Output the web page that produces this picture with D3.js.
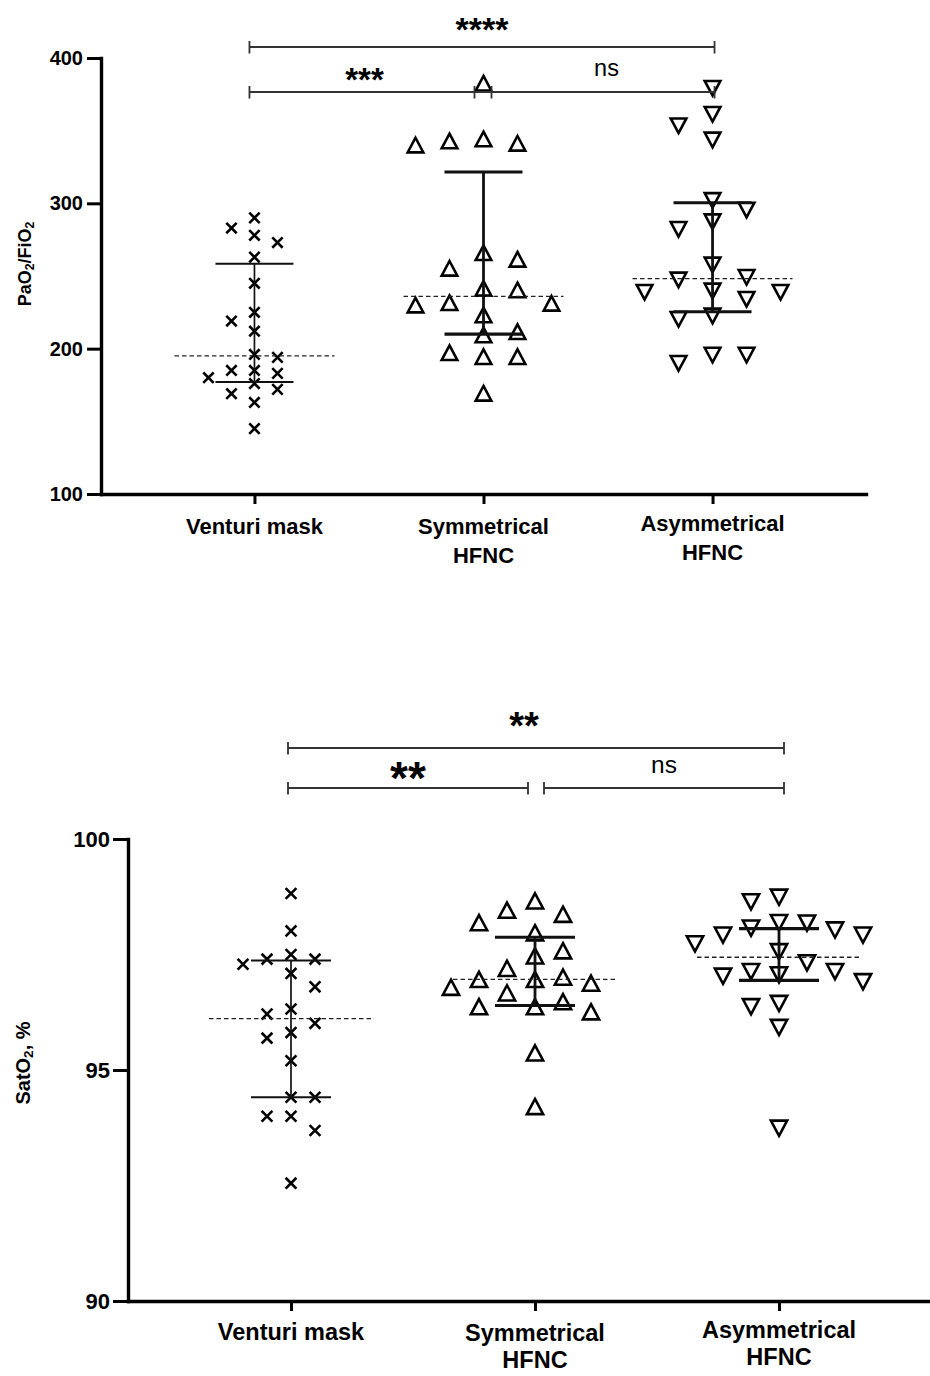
<!DOCTYPE html>
<html><head><meta charset="utf-8">
<script src="https://cdn.jsdelivr.net/npm/d3@7"></script>
<style>body{margin:0;background:#fff}svg{display:block}</style>
</head><body>
<svg id="c" width="930" height="1376"></svg>
<script>
// ---------------- DATA ----------------
const categories = ["Venturi mask", "Symmetrical HFNC", "Asymmetrical HFNC"];
const categoryLines = [["Venturi mask"], ["Symmetrical", "HFNC"], ["Asymmetrical", "HFNC"]];

const pfVenturi = [290, 283, 278, 273, 263, 245, 225, 219, 212, 196, 194, 185, 185, 183, 180, 176, 172, 169, 163, 145];
const pfSymmetrical = [382.6, 344.3, 342.9, 341.3, 340.1, 266.0, 261.5, 255.3, 241.5, 240.4, 231.6, 231.2, 230.0, 223.2, 211.7, 209.4, 197.2, 194.5, 194.5, 169.3];
const pfAsymmetrical = [379.2, 361.3, 353.4, 343.6, 302.0, 295.4, 287.4, 282.1, 257.6, 249.1, 247.3, 239.7, 238.8, 238.8, 234.0, 222.5, 220.2, 195.6, 195.6, 189.9];

const satVenturi = [98.82, 98.01, 97.50, 97.40, 97.40, 97.29, 97.09, 96.80, 96.32, 96.21, 96.01, 95.81, 95.69, 95.20, 94.41, 94.41, 94.00, 94.00, 93.69, 92.55];
const satSymmetrical = [98.66, 98.46, 98.37, 98.19, 97.97, 97.58, 97.47, 97.20, 97.01, 96.96, 96.96, 96.88, 96.79, 96.67, 96.48, 96.37, 96.37, 96.26, 95.37, 94.21];
const satAsymmetrical = [98.74, 98.64, 98.19, 98.18, 98.07, 98.03, 97.92, 97.92, 97.73, 97.56, 97.32, 97.13, 97.13, 97.06, 97.03, 96.91, 96.44, 96.37, 95.92, 93.74];

const pfTicks = [100, 200, 300, 400];
const satTicks = [90, 95, 100];
const pfDomain = [100, 400];
const satDomain = [90, 100];

// comparisons: [groupA, groupB, label]
const pfComparisons = [[0, 2, "****"], [0, 1, "***"], [1, 2, "ns"]];
const satComparisons = [[0, 2, "**"], [0, 1, "**"], [1, 2, "ns"]];

// ---------------- DRAW ----------------
const svg = d3.select("#c");
const FONT = "'Liberation Sans', Arial, Helvetica, sans-serif";

function prismQuantile(arr, p) {
  const s = arr.slice().sort((a, b) => a - b), n = s.length;
  const pos = (n + 1) * p, i = Math.floor(pos), f = pos - i;
  if (i < 1) return s[0];
  if (i >= n) return s[n - 1];
  return s[i - 1] + f * (s[i] - s[i - 1]);
}

function swarm(values, y, spacing, h) {
  const idx = values.map((v, i) => i).sort((a, b) => values[b] - values[a]);
  const placed = [], off = new Array(values.length);
  let toggle = -1;
  idx.forEach(i => {
    const py = y(values[i]);
    const cands = [0];
    for (let k = 1; k < 30; k++) cands.push(toggle * k * spacing / 2, -toggle * k * spacing / 2);
    for (const dx of cands) {
      if (placed.every(p => Math.abs(p.dx - dx) >= spacing * 0.95 || Math.abs(p.py - py) >= h)) {
        off[i] = dx; placed.push({dx, py});
        if (dx !== 0) toggle = -Math.sign(dx);
        break;
      }
    }
  });
  return off;
}

function markerPath(type, s) {
  if (type === "x") return `M${-s},${-s}L${s},${s}M${-s},${s}L${s},${-s}`;
  const w = s * 1.07, hh = s;
  if (type === "up") return `M0,${-hh}L${w},${hh}L${-w},${hh}Z`;
  return `M0,${hh}L${w},${-hh}L${-w},${-hh}Z`;
}

function drawChart(cfg) {
  const g = svg.append("g");
  const y = d3.scaleLinear().domain(cfg.domain).range([cfg.yBottom, cfg.yTop]);
  const x = d3.scalePoint().domain(categories).range([cfg.xLeft, cfg.xRight]).padding(cfg.pad);

  // Y axis
  const ya = g.append("g").attr("transform", `translate(${cfg.xLeft},0)`)
    .call(d3.axisLeft(y).tickValues(cfg.ticks).tickSize(cfg.tickLen).tickSizeOuter(0).tickPadding(cfg.tickPad));
  ya.select(".domain").attr("stroke", "#000").attr("stroke-width", 3.4).attr("stroke-linecap", "square");
  ya.selectAll(".tick line").attr("stroke", "#000").attr("stroke-width", 3);
  ya.selectAll(".tick text").attr("font-family", FONT).attr("font-weight", "bold")
    .attr("font-size", cfg.tickFont).attr("fill", "#000");

  // X axis
  const xa = g.append("g").attr("transform", `translate(0,${cfg.yBottom})`)
    .call(d3.axisBottom(x).tickSize(10).tickSizeOuter(0).tickFormat(""));
  xa.select(".domain").attr("stroke", "#000").attr("stroke-width", 3.4).attr("stroke-linecap", "square");
  xa.selectAll(".tick line").attr("stroke", "#000").attr("stroke-width", 3);

  categories.forEach((c, ci) => {
    const t = g.append("text").attr("x", x(c)).attr("y", cfg.labelY + cfg.labelShift[ci])
      .attr("text-anchor", "middle").attr("font-family", FONT).attr("font-weight", "bold")
      .attr("font-size", cfg.labelFont).attr("fill", "#000");
    categoryLines[ci].forEach((ln, li) => {
      t.append("tspan").attr("x", x(c)).attr("dy", li === 0 ? 0 : cfg.lineGap).text(ln);
    });
  });

  // Y title
  const yt = g.append("text").attr("transform", `translate(${cfg.titleX},${cfg.titleY}) rotate(-90)`)
    .attr("text-anchor", "middle").attr("font-family", FONT).attr("font-weight", "bold")
    .attr("font-size", cfg.titleFont).attr("fill", "#000");
  cfg.title.forEach(part => {
    const ts = yt.append("tspan").text(part[0]);
    if (part[1] === "sub") ts.attr("font-size", cfg.titleFont * 0.68).attr("dy", 3);
    else if (part[1] === "back") ts.attr("dy", -3);
  });

  // Points and error bars
  cfg.series.forEach((vals, ci) => {
    const cx = x(categories[ci]);
    const off = swarm(vals, y, cfg.spacing[ci], cfg.rowH[ci]);
    g.append("g").selectAll("path").data(vals).join("path")
      .attr("transform", (d, i) => `translate(${cx + off[i]},${y(d)})`)
      .attr("d", markerPath(cfg.markers[ci], cfg.markerSize[ci]))
      .attr("fill", "none").attr("stroke", "#000").attr("stroke-width", 2.6)
      .attr("stroke-linejoin", "miter");

    const med = prismQuantile(vals, 0.5), q1 = prismQuantile(vals, 0.25), q3 = prismQuantile(vals, 0.75);
    const lw = cfg.barWidth[ci];
    g.append("line").attr("x1", cx - cfg.medHalf).attr("x2", cx + cfg.medHalf)
      .attr("y1", y(med)).attr("y2", y(med))
      .attr("stroke", "#222").attr("stroke-width", 1.3).attr("stroke-dasharray", "4.5,3");
    g.append("line").attr("x1", cx).attr("x2", cx).attr("y1", y(q1)).attr("y2", y(q3))
      .attr("stroke", "#111").attr("stroke-width", lw);
    [q1, q3].forEach(q => g.append("line").attr("x1", cx - cfg.capHalf).attr("x2", cx + cfg.capHalf)
      .attr("y1", y(q)).attr("y2", y(q)).attr("stroke", "#111").attr("stroke-width", lw + 0.3));
  });

  // Significance brackets
  cfg.comparisons.forEach((cmp, k) => {
    const b = cfg.brackets[k];
    const xa1 = x(categories[cmp[0]]) + b.l, xb1 = x(categories[cmp[1]]) + b.r;
    g.append("path").attr("d", `M${xa1},${b.y - 6}V${b.y + 6.5}M${xa1},${b.y}H${xb1}M${xb1},${b.y - 6}V${b.y + 6.5}`)
      .attr("fill", "none").attr("stroke", "#333").attr("stroke-width", 1.8);
    const isNs = cmp[2] === "ns";
    g.append("text").attr("x", (xa1 + xb1) / 2 + (b.dx || 0)).attr("y", b.ty)
      .attr("text-anchor", "middle").attr("font-family", FONT)
      .attr("font-weight", isNs ? "normal" : "bold").attr("font-size", b.fs)
      .attr("fill", "#000").text(cmp[2]);
  });
}

drawChart({
  domain: pfDomain, ticks: pfTicks, yTop: 58, yBottom: 494,
  xLeft: 101, xRight: 866, pad: 0.67,
  tickLen: 14, tickPad: 4, tickFont: 20,
  labelY: 534, labelShift: [0, 0, -3], labelFont: 22, lineGap: 29,
  title: [["PaO", ""], ["2", "sub"], ["/FiO", "back"], ["2", "sub"]],
  titleX: 31, titleY: 264, titleFont: 18,
  series: [pfVenturi, pfSymmetrical, pfAsymmetrical],
  markers: ["x", "up", "down"], markerSize: [5.2, 7.3, 7.3],
  spacing: [23, 34, 34], rowH: [13, 18, 18],
  barWidth: [1.7, 2.8, 2.8], medHalf: 80, capHalf: 39,
  comparisons: pfComparisons,
  brackets: [
    {l: -5, r: 2, y: 47, ty: 41, fs: 34},
    {l: -5, r: 8, y: 92, ty: 91, fs: 33, dx: -6},
    {l: -9, r: 2, y: 92, ty: 76, fs: 23.5, dx: 12}
  ]
});

drawChart({
  domain: satDomain, ticks: satTicks, yTop: 839, yBottom: 1301,
  xLeft: 128, xRight: 942, pad: 0.668,
  tickLen: 15, tickPad: 3, tickFont: 22,
  labelY: 1340, labelShift: [0, 1, -2], labelFont: 23.5, lineGap: 27,
  title: [["SatO", ""], ["2", "sub"], [", %", "back"]],
  titleX: 30, titleY: 1063, titleFont: 20,
  series: [satVenturi, satSymmetrical, satAsymmetrical],
  markers: ["x", "up", "down"], markerSize: [5.4, 7.6, 7.6],
  spacing: [24, 28, 28], rowH: [17, 23, 23],
  barWidth: [1.7, 2.8, 2.8], medHalf: 82, capHalf: 40,
  comparisons: satComparisons,
  brackets: [
    {l: -3, r: 5, y: 748, ty: 739, fs: 38, dx: -12},
    {l: -3, r: -7, y: 788, ty: 794, fs: 46},
    {l: 9, r: 5, y: 788, ty: 773, fs: 24.5}
  ]
});
</script>
</body></html>
